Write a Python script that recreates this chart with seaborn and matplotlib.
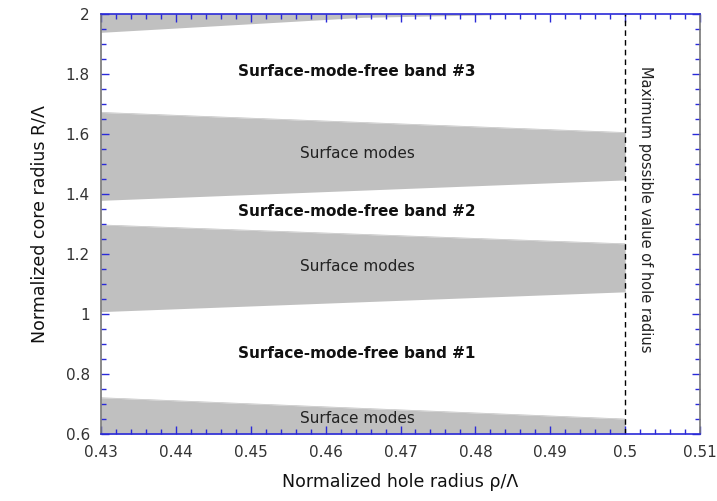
import matplotlib
matplotlib.use('Agg')
import matplotlib.pyplot as plt
import seaborn as sns
import numpy as np
import pandas as pd
from matplotlib.ticker import MultipleLocator

# hole radius at the two ends of each band
rho = [0.43, 0.50]
# surface-mode regions (lower / upper edge)
modes1_low = [0.60, 0.60]
modes1_high = [0.721, 0.650]
modes2_low = [1.008, 1.074]
modes2_high = [1.297, 1.234]
modes3_low = [1.379, 1.447]
modes3_high = [1.672, 1.605]
# top band only reaches into the plot on the left side
rho_top = [0.43, 0.465, 0.487]
modes4_low = [1.939, 1.989, 2.0]
modes4_high = [2.1, 2.1, 2.1]

rho_max = 0.5
free_labels = ['Surface-mode-free band #1', 'Surface-mode-free band #2',
               'Surface-mode-free band #3']
free_y = [0.869, 1.341, 1.808]
modes_y = [0.652, 1.158, 1.536]

sns.set_theme(style='white')
plt.rcParams['font.family'] = ['DejaVu Sans']

blue = '#2a2ad8'
gray = '#c0c0c0'

fig = plt.figure(figsize=(7.17, 5.01), dpi=100)
ax = fig.add_axes([0.1409, 0.1337, 0.9763 - 0.1409, 0.972 - 0.1337])
ax.set_axisbelow(False)

bands = pd.DataFrame({'rho': rho * 3,
                      'low': modes1_low + modes2_low + modes3_low,
                      'high': modes1_high + modes2_high + modes3_high,
                      'band': [1, 1, 2, 2, 3, 3]})
for b, g in bands.groupby('band'):
    ax.fill_between(g['rho'], g['low'], g['high'], color=gray, lw=0, zorder=1)
    sns.lineplot(x='rho', y='high', data=g, ax=ax, color=gray, lw=0.5, zorder=1)
ax.fill_between(rho_top, modes4_low, modes4_high, color=gray, lw=0, zorder=1)

ax.axvline(rho_max, color='black', lw=1, ls=(0, (4, 3)), zorder=3)

xc = 0.4642
for lab, y in zip(free_labels, free_y):
    ax.text(xc, y, lab, ha='center', va='center', fontsize=11,
            fontweight='bold', color='#111111')
for y in modes_y:
    ax.text(xc, y, 'Surface modes', ha='center', va='center', fontsize=11,
            color='#222222')
ax.text(0.5027, 1.35, 'Maximum possible value of hole radius', rotation=-90,
        ha='center', va='center', fontsize=10.5, color='#222222')

ax.set_xlim(0.43, 0.51)
ax.set_ylim(0.6, 2.0)
ax.xaxis.set_minor_locator(MultipleLocator(0.002))
ax.yaxis.set_minor_locator(MultipleLocator(0.05))
ax.set_xticks(np.arange(0.43, 0.5101, 0.01))
ax.set_xticklabels(['0.43', '0.44', '0.45', '0.46', '0.47', '0.48', '0.49',
                    '0.5', '0.51'])
ax.set_yticks(np.arange(0.6, 2.001, 0.2))
ax.set_yticklabels(['0.6', '0.8', '1', '1.2', '1.4', '1.6', '1.8', '2'])

ax.tick_params(which='both', direction='in', top=True, right=True,
               bottom=True, left=True, color=blue, labelsize=11,
               labelcolor='#333333')
ax.tick_params(which='major', length=6, width=1, pad=8)
ax.tick_params(which='minor', length=3.5, width=1)

for side in ['top', 'bottom']:
    ax.spines[side].set_color(blue)
for side in ['left', 'right']:
    ax.spines[side].set_color('#777777')
for s in ax.spines.values():
    s.set_linewidth(1.2)
    s.set_zorder(4)

ax.set_xlabel('Normalized hole radius ρ/Λ', fontsize=12.5, color='#111111',
              labelpad=9)
ax.set_ylabel('Normalized core radius R/Λ', fontsize=12.5, color='#111111',
              labelpad=12)

fig.savefig('out.png', dpi=100)
